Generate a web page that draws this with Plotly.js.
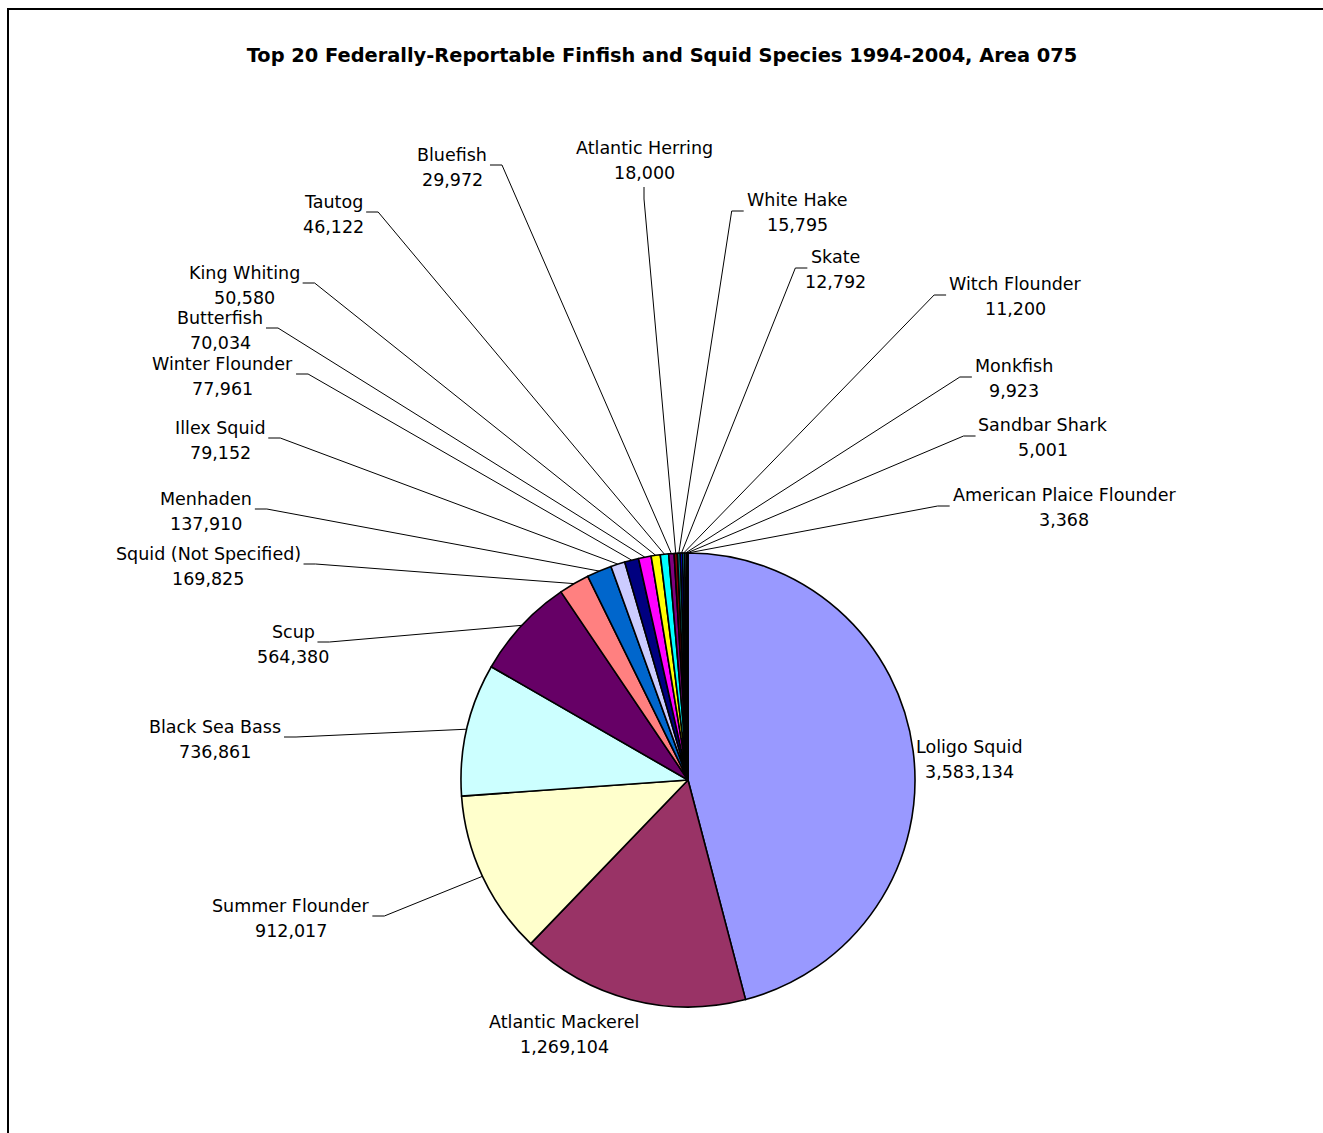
<!DOCTYPE html>
<html>
<head>
<meta charset="utf-8">
<script src="https://cdn.plot.ly/plotly-3.0.1.min.js"></script>
<style>html,body{margin:0;padding:0;background:#fff;}#chart{width:1323px;height:1133px;}</style>
</head>
<body>
<div id="chart"></div>
<script>
// ---- data ----
var species = ["Loligo Squid","Atlantic Mackerel","Summer Flounder","Black Sea Bass","Scup",
  "Squid (Not Specified)","Menhaden","Illex Squid","Winter Flounder","Butterfish",
  "King Whiting","Tautog","Bluefish","Atlantic Herring","White Hake","Skate",
  "Witch Flounder","Monkfish","Sandbar Shark","American Plaice Flounder"];
var pounds = [3583134,1269104,912017,736861,564380,169825,137910,79152,77961,70034,
  50580,46122,29972,18000,15795,12792,11200,9923,5001,3368];
var sliceColors = ["#9999FF","#993366","#FFFFCC","#CCFFFF","#660066","#FF8080","#0066CC",
  "#CCCCFF","#000080","#FF00FF","#FFFF00","#00FFFF","#800080","#800000","#008080",
  "#0000FF","#00CCFF","#CCFFFF","#CCFFCC","#FFFF99"];

// ---- layout (pixel positions of labels: centre x, first-line centre y, leader side) ----
var labelX = [969,564,291,215,293,208,206,220,223,220,244,334,452,644,797,835,1015,1014,1043,1064];
var labelY = [747,1022,906,727,632,554,499,428,364,318,273,202,155,148,200,257,284,366,425,495];
var leaderSide = ["","","L","L","L","L","L","L","L","L","L","L","L","B","R","R","R","R","R","R"];

var W = 1323, H = 1133;
var CX = 688, CY = 780, R = 227;
var FONT = "DejaVu Sans";
var FS = 17.5;

function px(x){ return x / W; }
function py(y){ return 1 - y / H; }
function fmt(v){ return v.toString().replace(/\B(?=(\d{3})+(?!\d))/g, ","); }

var canvas = document.createElement("canvas");
var ctx = canvas.getContext("2d");
ctx.font = FS + "px '" + FONT + "'";

var annotations = [];
var shapes = [];
var total = pounds.reduce(function(a,b){return a+b;}, 0);
var cum = 0;
for (var i = 0; i < species.length; i++) {
  var midFrac = (cum + pounds[i] / 2) / total;
  cum += pounds[i];
  annotations.push({x: px(labelX[i]), y: py(labelY[i]), xref: "paper", yref: "paper",
    text: species[i], showarrow: false, xanchor: "center", yanchor: "middle",
    font: {family: FONT, size: FS, color: "#000"}});
  annotations.push({x: px(labelX[i]), y: py(labelY[i] + 25), xref: "paper", yref: "paper",
    text: fmt(pounds[i]), showarrow: false, xanchor: "center", yanchor: "middle",
    font: {family: FONT, size: FS, color: "#000"}});
  var side = leaderSide[i];
  if (!side) continue;
  var ang = midFrac * 2 * Math.PI;
  var ex = CX + R * Math.sin(ang), ey = CY - R * Math.cos(ang);
  var w = ctx.measureText(species[i]).width;
  var sx, sy, kx, ky;
  if (side === "L") { sx = labelX[i] + w / 2 + 3; sy = labelY[i] + 10; kx = sx + 12; ky = sy; }
  else if (side === "R") { sx = labelX[i] - w / 2 - 3; sy = labelY[i] + 11; kx = sx - 12; ky = sy; }
  else { sx = labelX[i]; sy = labelY[i] + 39; kx = sx; ky = sy + 12; }
  shapes.push({type: "path", xref: "paper", yref: "paper",
    path: "M" + px(sx) + "," + py(sy) + " L" + px(kx) + "," + py(ky) + " L" + px(ex) + "," + py(ey),
    line: {color: "#000", width: 1}});
}
// outer frame
shapes.push({type: "rect", xref: "paper", yref: "paper", x0: px(8), x1: px(1340), y0: py(1150), y1: py(9),
  line: {color: "#000", width: 2}, fillcolor: "rgba(0,0,0,0)", layer: "below"});

var trace = {
  type: "pie",
  labels: species,
  values: pounds,
  sort: false,
  direction: "clockwise",
  rotation: 0,
  textinfo: "none",
  hoverinfo: "label+value",
  marker: {colors: sliceColors, line: {color: "#000", width: 1.6}},
  domain: {x: [px(CX - R), px(CX + R)], y: [py(CY + R), py(CY - R)]},
  showlegend: false
};

var layout = {
  width: W, height: H,
  margin: {l: 0, r: 0, t: 0, b: 0},
  paper_bgcolor: "#fff",
  title: {text: "Top 20 Federally-Reportable Finfish and Squid Species 1994-2004, Area 075",
    font: {family: FONT, size: 19.4, color: "#000", weight: "bold"},
    x: 662 / W, xanchor: "center", y: py(55), yanchor: "middle", yref: "paper"},
  annotations: annotations,
  shapes: shapes,
  showlegend: false
};

Plotly.newPlot("chart", [trace], layout, {displayModeBar: false, staticPlot: true});
</script>
</body>
</html>
